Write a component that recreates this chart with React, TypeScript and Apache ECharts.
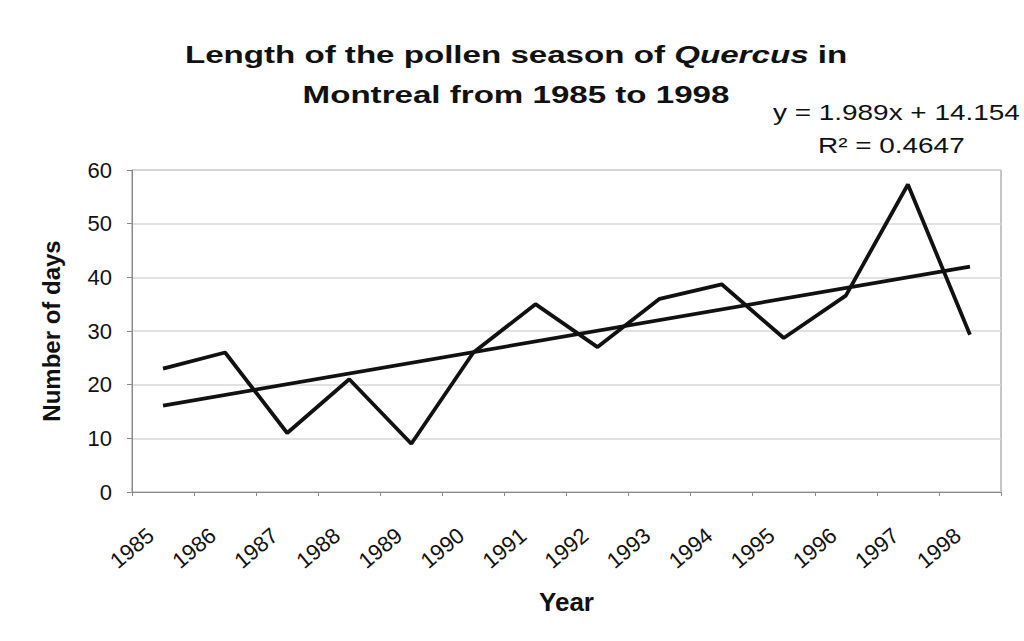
import React, { useEffect, useRef } from "react";
import * as echarts from "echarts";

const years = ["1985","1986","1987","1988","1989","1990","1991","1992","1993","1994","1995","1996","1997","1998"];
const seasonDays = [23, 26, 11, 21, 9, 26, 35, 27, 36, 38.7, 28.7, 36.6, 57.3, 29.3];
const trendEnds = [16.1, 42.0];
const yTicks = { min: 0, max: 60, interval: 10 };
const equationText = "y = 1.989x + 14.154";
const r2Text = "R² = 0.4647";

export default function App() {
  const ref = useRef<HTMLDivElement>(null);
  useEffect(() => {
    document.body.style.margin = "0";
    const chart = echarts.init(ref.current!, null, { renderer: "svg" });
    const trendData = years.map((_, i) => (i === 0 ? trendEnds[0] : i === years.length - 1 ? trendEnds[1] : null));
    const font = "'Liberation Sans', Arial, sans-serif";
    const titleRich = {
      b: { fontFamily: font, fontWeight: "bold", fontSize: 24, fill: "#111", color: "#111" },
      i: { fontFamily: font, fontWeight: "bold", fontStyle: "italic", fontSize: 24, fill: "#111", color: "#111" },
    };
    chart.setOption({
      animation: false,
      backgroundColor: "#ffffff",
      graphic: [
        {
          type: "text", x: 516, y: 55, scaleX: 1.38,
          style: {
            text: "{b|Length of the pollen season of }{i|Quercus}{b| in}",
            rich: titleRich, align: "center", verticalAlign: "middle",
          },
        },
        {
          type: "text", x: 516, y: 95, scaleX: 1.38,
          style: {
            text: "{b|Montreal from 1985 to 1998}",
            rich: titleRich, align: "center", verticalAlign: "middle",
          },
        },
        {
          type: "text", x: 773, y: 112, scaleX: 1.27,
          style: { text: equationText, font: `22px ${font}`, fill: "#111", align: "left", verticalAlign: "middle" },
        },
        {
          type: "text", x: 818, y: 145, scaleX: 1.27,
          style: { text: r2Text, font: `22px ${font}`, fill: "#111", align: "left", verticalAlign: "middle" },
        },
      ],
      grid: { left: 132, right: 23, top: 170, bottom: 149, show: true, borderColor: "#8a8a8a", borderWidth: 1 },
      xAxis: {
        type: "category",
        data: years,
        boundaryGap: true,
        name: "Year",
        nameLocation: "middle",
        nameGap: 97,
        nameTextStyle: { fontFamily: font, fontWeight: "bold", fontSize: 26, color: "#111" },
        axisLine: { lineStyle: { color: "#8a8a8a", width: 1 } },
        axisTick: { show: true, length: 4, lineStyle: { color: "#8a8a8a" } },
        axisLabel: { rotate: 40, margin: 30, padding: [0, 16, 0, 0], fontFamily: font, fontSize: 22, color: "#111" },
        splitLine: { show: false },
      },
      yAxis: {
        type: "value",
        min: yTicks.min,
        max: yTicks.max,
        interval: yTicks.interval,
        name: "Number of days",
        nameLocation: "middle",
        nameGap: 69,
        nameTextStyle: { fontFamily: font, fontWeight: "bold", fontSize: 24, color: "#111" },
        axisLine: { show: true, lineStyle: { color: "#8a8a8a", width: 1 } },
        axisTick: { show: true, length: 5, lineStyle: { color: "#8a8a8a" } },
        axisLabel: { margin: 20, fontFamily: font, fontSize: 22, color: "#111" },
        splitLine: { show: true, lineStyle: { color: "#d9d9d9", width: 1.5 } },
      },
      series: [
        {
          type: "line",
          data: seasonDays,
          symbol: "none",
          lineStyle: { color: "#111", width: 3.8 },
        },
        {
          type: "line",
          data: trendData,
          connectNulls: true,
          symbol: "none",
          lineStyle: { color: "#111", width: 3.8 },
        },
      ],
    });
    return () => chart.dispose();
  }, []);
  return <div ref={ref} style={{ position: "fixed", left: 0, top: 0, width: 1024, height: 641 }} />;
}
